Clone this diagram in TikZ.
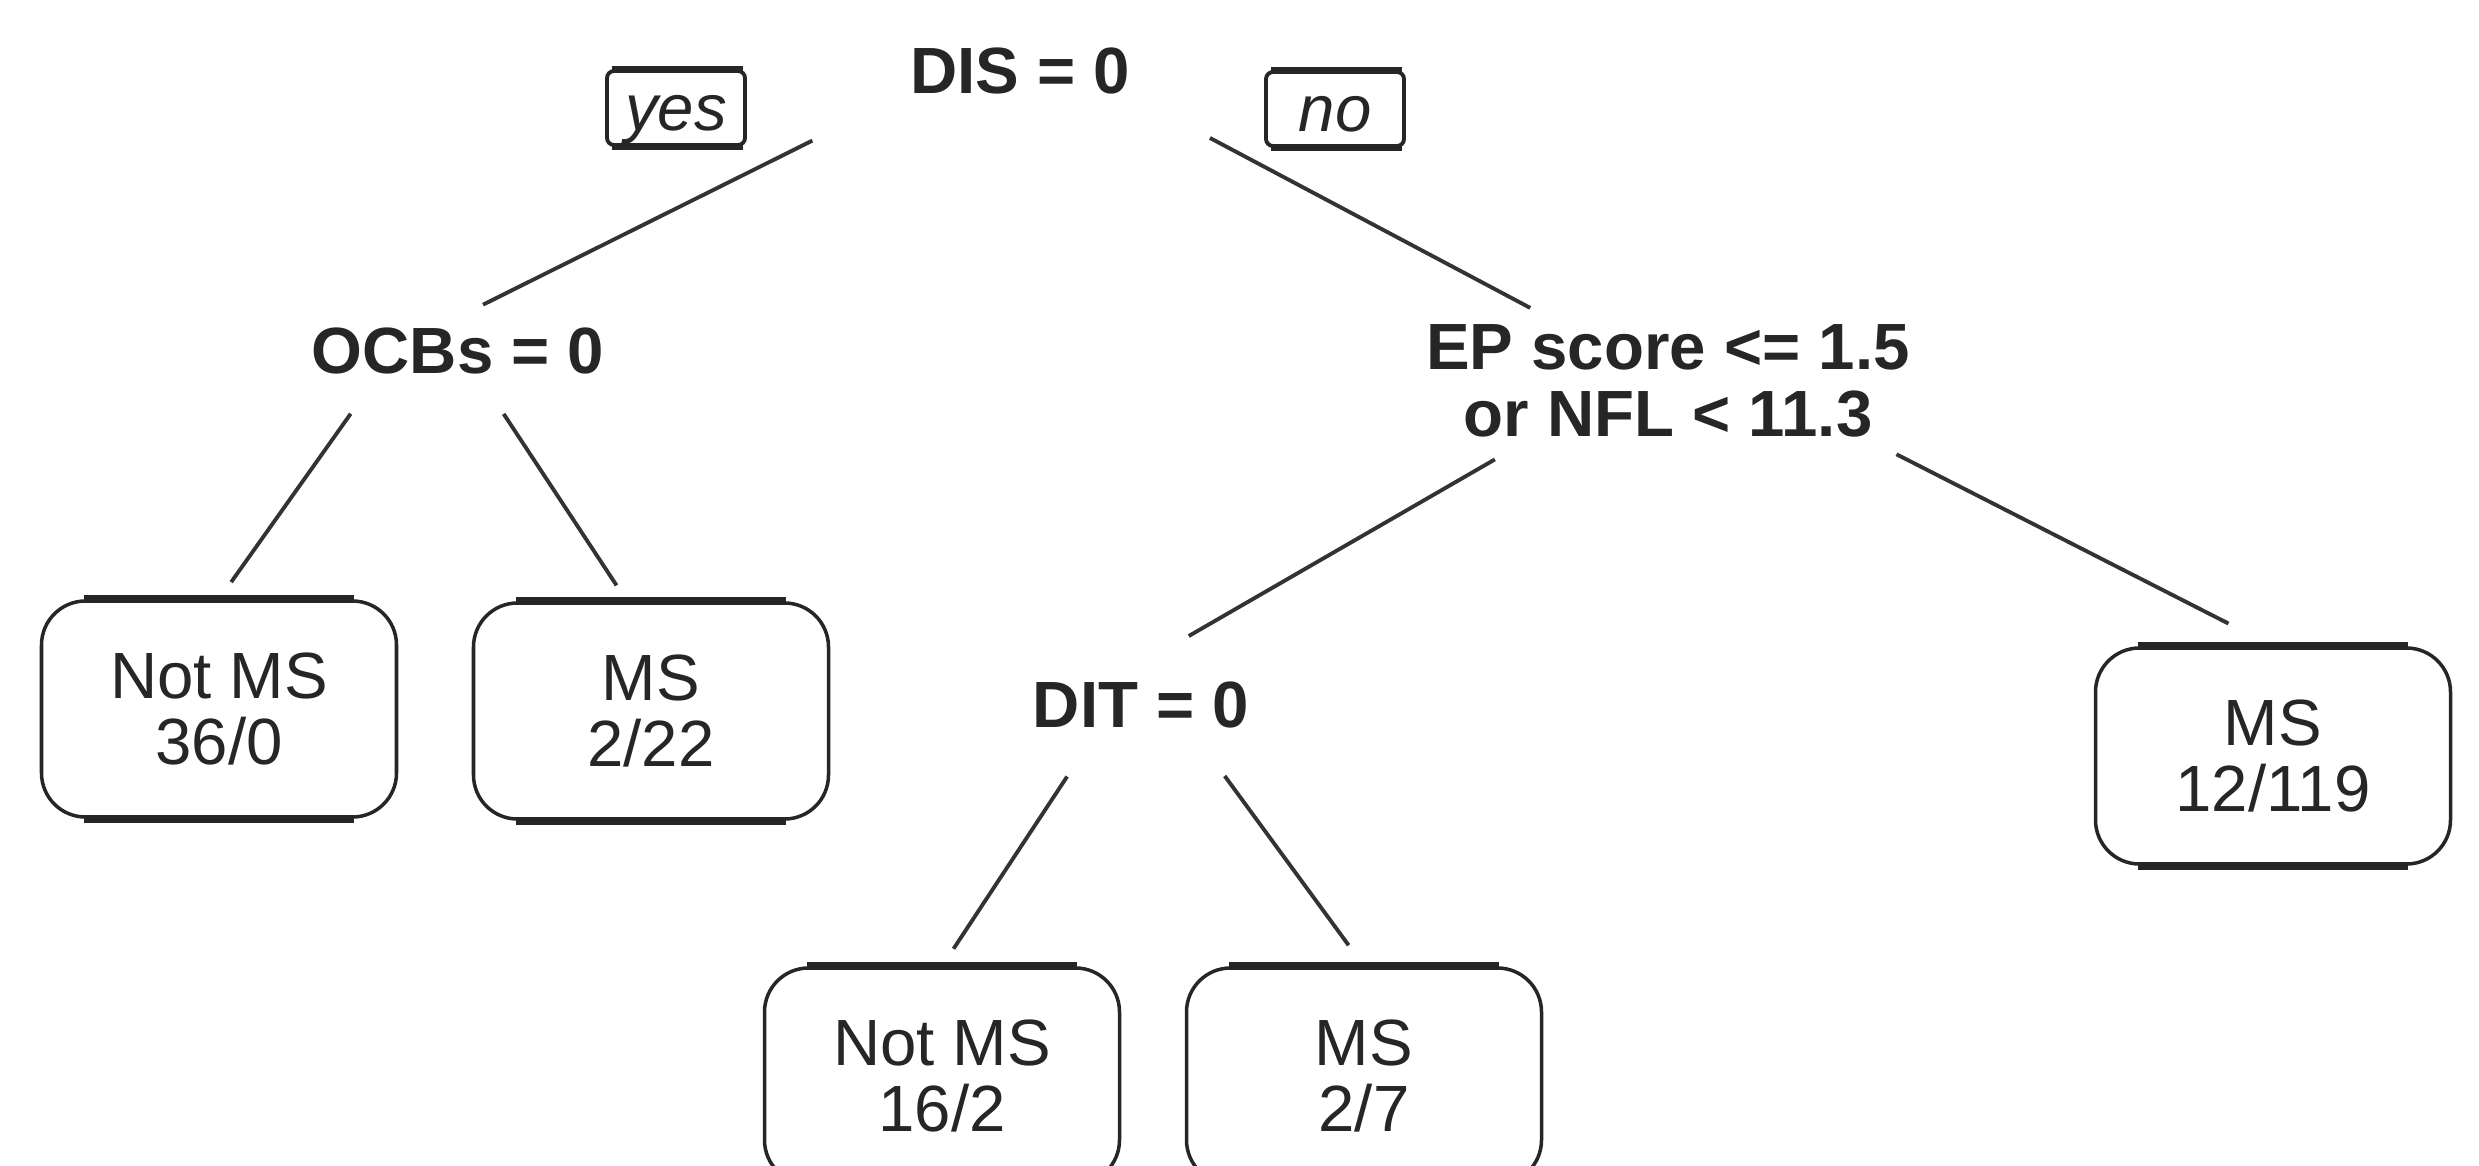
\documentclass[tikz,border=0pt]{standalone}
\usepackage{fontspec}
\setmainfont{Liberation Sans}
\usetikzlibrary{calc}

\begin{document}
\begin{tikzpicture}[
    split/.style={inner sep=1mm, align=center, text=black!85,
        font=\fontsize{18.6pt}{19pt}\selectfont\bfseries},
    leaf/.style={draw=black!85, line width=1pt, rounded corners=4.4mm,
        minimum width=3.55cm, minimum height=2.16cm, align=center,
        text=black!85, font=\fontsize{18.6pt}{19pt}\selectfont},
    tag/.style={draw=black!85, line width=1.1pt, rounded corners=2pt,
        minimum width=1.38cm, minimum height=0.74cm, inner sep=0pt,
        text height=16.7pt, text depth=3.9pt,
        text=black!85, font=\fontsize{18.6pt}{19pt}\selectfont\itshape},
    branch/.style={black!80, line width=1.1pt},
]
    \path[use as bounding box, clip] (0,0) rectangle (24.79,11.65);

    % Split nodes
    \node[split] (dis) at (10.20,10.94) {DIS = 0};
    \node[split] (ocbs) at (4.58,8.14) {OCBs = 0};
    \node[split] (ep) at (16.68,7.84) {EP score <= 1.5\\or NFL < 11.3};
    \node[split] (dit) at (11.41,4.60) {DIT = 0};

    % yes / no tags
    \node[tag] (yes) at (6.76,10.57) {yes};
    \node[tag] (no) at (13.35,10.56) {no};

    % Leaves
    \node[leaf] (nms36) at (2.19,4.56) {Not MS\\36/0};
    \node[leaf] (ms22) at (6.51,4.54) {MS\\2/22};
    \node[leaf] (ms119) at (22.73,4.09) {MS\\12/119};
    \node[leaf] (nms16) at (9.42,0.89) {Not MS\\16/2};
    \node[leaf] (ms7) at (13.64,0.89) {MS\\2/7};

    % Forks under the splits
    \coordinate (ocbsfork) at (4.30,8.63);
    \coordinate (epfork) at (16.88,8.17);
    \coordinate (ditfork) at (11.42,5.02);

    % Branches
    \draw[branch, shorten <=2.32cm, shorten >=0.28cm] (dis.north) -- (ocbs.north);
    \draw[branch, shorten <=2.15cm, shorten >=1.56cm] (dis.north) -- (ep.center);
    \draw[branch, shorten <=1.37cm, shorten >=0.21cm] (ocbsfork) -- (nms36.north);
    \draw[branch, shorten <=1.34cm, shorten >=0.19cm] (ocbsfork) -- ([xshift=-2.4mm]ms22.north);
    \draw[branch, shorten <=2.23cm, shorten >=0.54cm] (epfork) -- (ditfork);
    \draw[branch, shorten <=2.34cm, shorten >=0.50cm] (epfork) -- (ms119.north);
    \draw[branch, shorten <=1.36cm, shorten >=0.21cm] (ditfork) -- (nms16.north);
    \draw[branch, shorten <=1.40cm, shorten >=0.26cm] (ditfork) -- (ms7.north);

    % Heavier top and bottom edges
    \foreach \n in {nms36,ms22,ms119,nms16,ms7} {
        \draw[line width=2.4pt, black!85] ([xshift=4.4mm]\n.north west) -- ([xshift=-4.4mm]\n.north east);
        \draw[line width=2.4pt, black!85] ([xshift=4.4mm]\n.south west) -- ([xshift=-4.4mm]\n.south east);
    }
    \foreach \n in {yes,no} {
        \draw[line width=2pt, black!85] ([xshift=2pt]\n.north west) -- ([xshift=-1pt]\n.north east);
        \draw[line width=2pt, black!85] ([xshift=2pt]\n.south west) -- ([xshift=-1pt]\n.south east);
    }
\end{tikzpicture}
\end{document}
